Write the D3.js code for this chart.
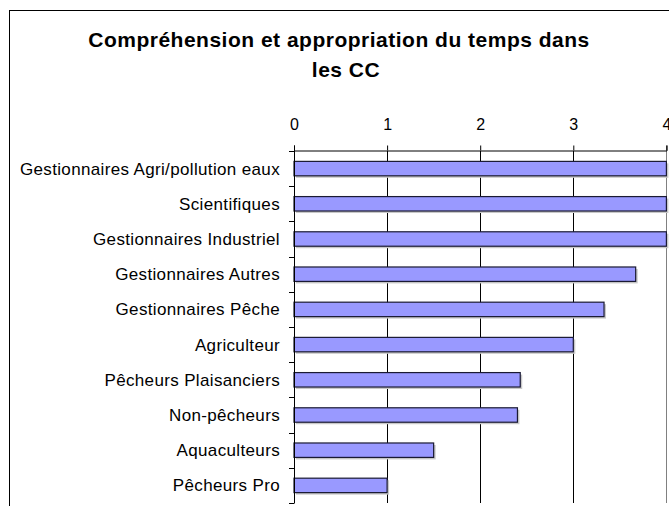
<!DOCTYPE html>
<html>
<head>
<meta charset="utf-8">
<script src="https://cdn.jsdelivr.net/npm/d3@7"></script>
<style>
  html, body { margin: 0; padding: 0; background: #fff; }
  svg { display: block; font-family: "Liberation Sans", Arial, sans-serif; }
</style>
</head>
<body>
<svg id="chart" width="669" height="506"></svg>
<script>
// Groups of participants, top to bottom
const categories = [
  "Gestionnaires Agri/pollution eaux",
  "Scientifiques",
  "Gestionnaires Industriel",
  "Gestionnaires Autres",
  "Gestionnaires Pêche",
  "Agriculteur",
  "Pêcheurs Plaisanciers",
  "Non-pêcheurs",
  "Aquaculteurs",
  "Pêcheurs Pro"
];
const scores = [4, 4, 4, 3.67, 3.33, 3, 2.43, 2.4, 1.5, 1];
const tickValues = [0, 1, 2, 3, 4];
const titleLines = ["Compréhension et appropriation du temps dans", "les CC"];

const svg = d3.select("#chart");

// chart frame
svg.append("rect")
  .attr("x", 9.5).attr("y", 10.5)
  .attr("width", 700).attr("height", 600)
  .attr("fill", "#fff").attr("stroke", "#000").attr("stroke-width", 1);

// title
const titleX = [339, 346];
const titleY = [47, 76.5];
const title = svg.append("text")
  .attr("text-anchor", "middle")
  .attr("font-weight", "bold")
  .attr("font-size", 21)
  .attr("letter-spacing", 0.5)
  .attr("fill", "#000");
titleLines.forEach((t, i) => {
  title.append("tspan").attr("x", titleX[i]).attr("y", titleY[i]).text(t);
});

const plot = { left: 294, right: 666.4, top: 151, bottom: 503 };

const x = d3.scaleLinear().domain([0, 4]).range([plot.left, plot.right]);
const y = d3.scaleBand().domain(categories).range([plot.top, plot.bottom]).paddingInner(0.59).paddingOuter(0.295);
const yb = d3.scaleBand().domain(categories).range([plot.top, plot.bottom]);

// vertical gridlines
svg.append("g").selectAll("line")
  .data(tickValues.slice(1))
  .join("line")
  .attr("x1", d => Math.round(x(d)) + 0.5).attr("x2", d => Math.round(x(d)) + 0.5)
  .attr("y1", plot.top).attr("y2", plot.bottom)
  .attr("stroke", (d, i) => i === tickValues.length - 2 ? "#808080" : "#000")
  .attr("stroke-width", 1);

// top value axis
const xAxis = d3.axisTop(x).tickValues(tickValues).tickSize(5).tickPadding(16).tickFormat(d3.format("d"));
const gx = svg.append("g")
  .attr("transform", `translate(0,${plot.top - 0.5})`)
  .call(xAxis);
gx.select(".domain").attr("stroke", "#000");
gx.selectAll(".tick line").attr("stroke", "#000");
gx.selectAll(".tick text")
  .attr("font-size", 16)
  .attr("font-family", "Liberation Sans, Arial, sans-serif")
  .attr("dy", 0)
  .attr("fill", "#000");

// bar shadows
svg.append("g").selectAll("rect")
  .data(categories)
  .join("rect")
  .attr("x", x(0) + 2)
  .attr("y", d => y(d) + 2)
  .attr("width", (d, i) => x(scores[i]) - x(0))
  .attr("height", y.bandwidth())
  .attr("fill", "#c8c8c8");

// bars
svg.append("g").selectAll("rect")
  .data(categories)
  .join("rect")
  .attr("x", x(0))
  .attr("y", d => y(d))
  .attr("width", (d, i) => x(scores[i]) - x(0))
  .attr("height", y.bandwidth())
  .attr("fill", "#9999ff")
  .attr("stroke", "#1a1a33")
  .attr("stroke-width", 1.2);

// category axis with ticks at band boundaries
const gy = svg.append("g");
gy.append("line")
  .attr("x1", plot.left + 0.5).attr("x2", plot.left + 0.5)
  .attr("y1", plot.top).attr("y2", plot.bottom)
  .attr("stroke", "#000");
gy.selectAll("line.bt")
  .data(d3.range(categories.length + 1))
  .join("line")
  .attr("class", "bt")
  .attr("x1", plot.left - 5).attr("x2", plot.left + 0.5)
  .attr("y1", i => Math.round(plot.top + i * yb.step()) + 0.5)
  .attr("y2", i => Math.round(plot.top + i * yb.step()) + 0.5)
  .attr("stroke", "#000");
gy.selectAll("text")
  .data(categories)
  .join("text")
  .attr("x", 280)
  .attr("y", d => yb(d) + yb.bandwidth() / 2 + 6)
  .attr("text-anchor", "end")
  .attr("font-size", 17)
  .attr("letter-spacing", 0.35)
  .attr("fill", "#000")
  .text(d => d);
</script>
</body>
</html>
